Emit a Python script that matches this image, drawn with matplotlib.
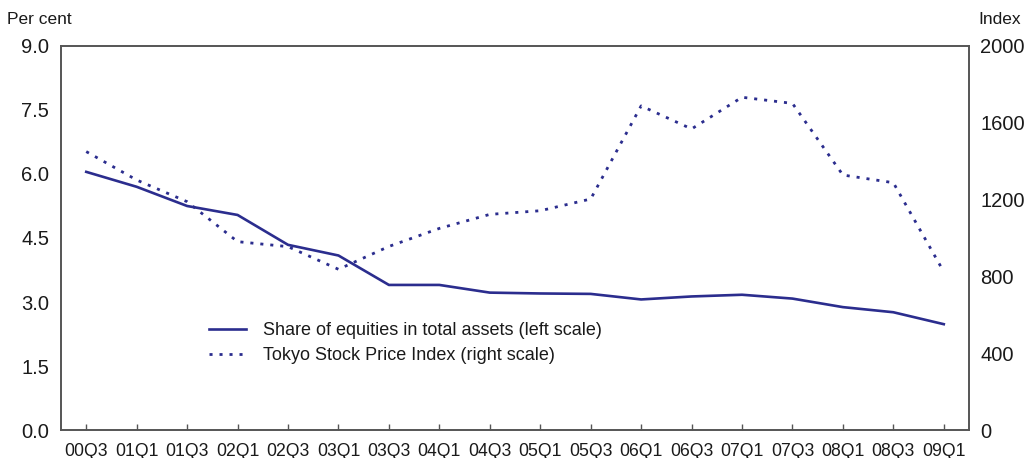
import matplotlib
matplotlib.use("Agg")
import matplotlib.pyplot as plt

# half-yearly observations
quarters = ["00Q3", "01Q1", "01Q3", "02Q1", "02Q3", "03Q1", "03Q3", "04Q1", "04Q3",
            "05Q1", "05Q3", "06Q1", "06Q3", "07Q1", "07Q3", "08Q1", "08Q3", "09Q1"]
equity_share = [6.05, 5.70, 5.25, 5.04, 4.34, 4.09, 3.40, 3.40, 3.22,
                 3.20, 3.19, 3.06, 3.13, 3.17, 3.08, 2.88, 2.76, 2.48]
topix = [1450, 1302, 1189, 981, 955, 837, 956, 1050, 1123,
         1142, 1203, 1688, 1568, 1733, 1701, 1328, 1288, 824]

left_ticks = [0.0, 1.5, 3.0, 4.5, 6.0, 7.5, 9.0]
right_ticks = [0, 400, 800, 1200, 1600, 2000]

navy = "#2b2d8e"
spine_col = "#555555"
text_col = "#1a1a1a"

plt.rcParams["font.family"] = ["Liberation Sans", "DejaVu Sans"]

fig = plt.figure(figsize=(10.29, 4.58), dpi=100)
ax = fig.add_axes([0.0593, 0.0611, 0.8824, 0.8385])
ax2 = ax.twinx()

x = list(range(len(quarters)))
l1, = ax.plot(x, equity_share, color=navy, lw=1.9,
              label="Share of equities in total assets (left scale)")
l2, = ax2.plot(x, topix, color=navy, lw=2.0, linestyle=(0, (1.1, 2.5)),
               label="Tokyo Stock Price Index (right scale)")

ax.set_xlim(-0.5, 17.5)
ax.set_ylim(0, 9)
ax2.set_ylim(0, 2000)

ax.set_xticks(x)
ax.set_xticklabels(quarters)
ax.set_yticks(left_ticks)
ax.set_yticklabels([f"{v:.1f}" for v in left_ticks])
ax2.set_yticks(right_ticks)
ax2.set_yticklabels([str(v) for v in right_ticks])

ax.tick_params(axis="x", direction="in", length=4, width=1, color=spine_col,
               labelsize=12.7, labelcolor=text_col, pad=9)
ax.tick_params(axis="y", length=0, labelsize=14.5, labelcolor=text_col, pad=8.5)
ax2.tick_params(axis="y", length=0, labelsize=14.5, labelcolor=text_col, pad=8)

for a in (ax, ax2):
    for s in a.spines.values():
        s.set_color(spine_col)
        s.set_linewidth(1.2)

fig.text(0.007, 0.94, "Per cent", fontsize=12.5, color=text_col, va="bottom")
fig.text(0.951, 0.94, "Index", fontsize=12.5, color=text_col, va="bottom")

fig.legend(handles=[l1, l2], loc="upper left", bbox_to_anchor=(0.203, 0.296),
           frameon=False, fontsize=13, handlelength=2.05, handletextpad=0.95,
           labelspacing=0.42, borderpad=0, borderaxespad=0, labelcolor=text_col)

fig.savefig("out.png", dpi=100)
